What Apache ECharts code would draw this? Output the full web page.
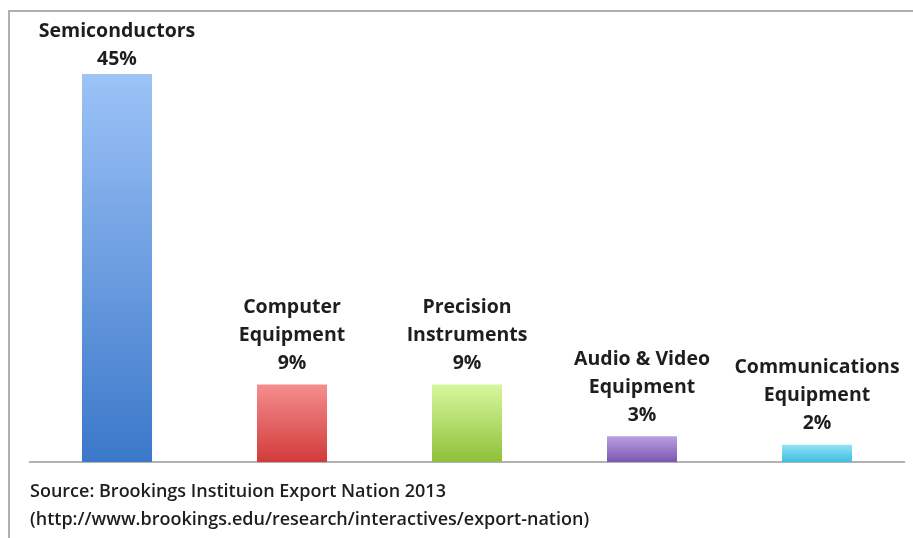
<!DOCTYPE html>
<html><head><meta charset="utf-8">
<script src="https://cdn.jsdelivr.net/npm/echarts@6/dist/echarts.min.js"></script>
<style>html,body{margin:0;padding:0;background:#fff}#c{width:913px;height:538px}</style>
</head><body><div id="c"></div>
<script>
const categories = ['Semiconductors', 'Computer\nEquipment', 'Precision\nInstruments', 'Audio & Video\nEquipment', 'Communications\nEquipment'];
const values = [45, 9, 9, 3, 2];
const colorsTop = ['#9dc3f7', '#f58e8e', '#d8f79e', '#bca0e4', '#92e2f5'];
const colorsBottom = ['#3b78c9', '#d23a3a', '#8ec13a', '#7a57b1', '#3dbfe0'];
const sourceLines = ['Source: Brookings Instituion Export Nation 2013', '(http://www.brookings.edu/research/interactives/export-nation)'];

const chart = echarts.init(document.getElementById('c'));
const FONT = '"Open Sans", "Liberation Sans", sans-serif';
chart.setOption({
  backgroundColor: '#fff',
  animation: false,
  grid: { left: 29.5, right: 8.5, top: 31, bottom: 76, containLabel: false },
  xAxis: {
    type: 'category', data: categories,
    axisLine: { lineStyle: { color: '#999', width: 1.5 } },
    axisTick: { show: false }, axisLabel: { show: false }
  },
  yAxis: { type: 'value', min: 0, max: 50, show: false, splitLine: { show: false } },
  series: [{
    type: 'bar', barWidth: '40%',
    data: values.map((v, i) => ({
      value: v,
      label: i === 0 ? { distance: 1 } : undefined,
      itemStyle: { color: new echarts.graphic.LinearGradient(0, 0, 0, 1, [
        { offset: 0, color: colorsTop[i] }, { offset: 1, color: colorsBottom[i] }]) }
    })),
    label: {
      show: true, position: 'top', distance: 7,
      formatter: p => categories[p.dataIndex] + '\n' + p.value + '%',
      fontFamily: FONT, fontWeight: 'bold', fontSize: 19.5, lineHeight: 28,
      color: '#1e1e1e', align: 'center'
    }
  }],
  graphic: [
    { type: 'polyline', shape: { points: [[9, 538], [9, 11], [913, 11]] },
      style: { stroke: '#b0b0b0', lineWidth: 2, fill: null } },
    { type: 'text', left: 30, top: 478, style: { text: sourceLines.join('\n'),
      font: '600 18px ' + FONT, lineHeight: 28, fill: '#1e1e1e' } }
  ]
});
</script></body></html>
